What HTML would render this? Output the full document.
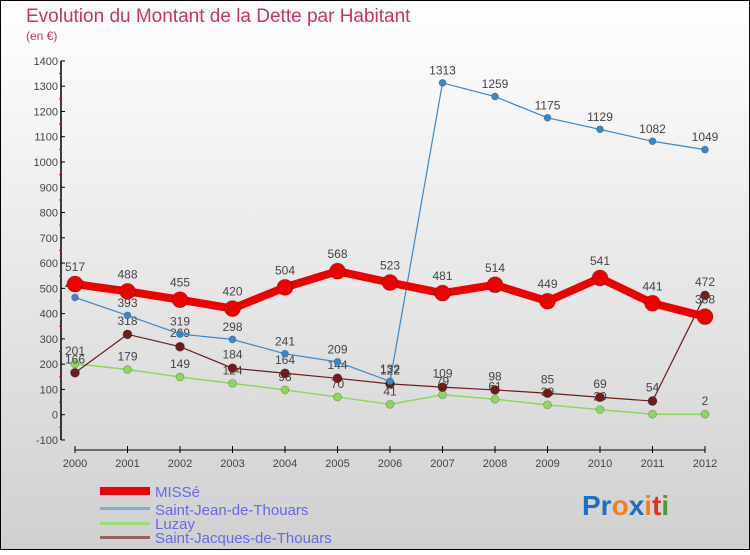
<!DOCTYPE html>
<html><head><meta charset="utf-8"><style>
html,body{margin:0;padding:0}
body{width:750px;height:550px;overflow:hidden;font-family:"Liberation Sans",sans-serif}
</style></head><body>
<svg id="chart" width="750" height="550" viewBox="0 0 750 550" xmlns="http://www.w3.org/2000/svg" font-family="Liberation Sans, sans-serif">
<defs><linearGradient id="bg" x1="0" y1="0" x2="0" y2="1"><stop offset="0" stop-color="#ffffff"/><stop offset="1" stop-color="#d0d0d0"/></linearGradient></defs>
<rect x="0.5" y="0.5" width="749" height="549" fill="url(#bg)" stroke="#000" stroke-width="1"/>
<text x="26" y="22" font-size="19" fill="#c8336a">Evolution du Montant de la Dette par Habitant</text>
<text x="26" y="40" font-size="12" fill="#c8336a">(en €)</text>
<g id="axes"></g>
<g id="series"></g>
<g>
<rect x="100" y="487" width="50" height="8" fill="#e00"/>
<text x="155" y="497" font-size="15" fill="#6666ee">MISSé</text>
<rect x="100" y="507" width="50" height="3" fill="#7ab0d8"/>
<text x="155" y="515" font-size="15" fill="#6666ee">Saint-Jean-de-Thouars</text>
<rect x="100" y="522" width="50" height="3" fill="#9bdc7a"/>
<text x="155" y="529" font-size="15" fill="#6666ee">Luzay</text>
<rect x="100" y="536" width="50" height="3" fill="#9a6060"/>
<text x="155" y="543" font-size="15" fill="#6666ee">Saint-Jacques-de-Thouars</text>
</g>
<text x="582" y="515" font-size="28" font-weight="bold"><tspan fill="#1e6fc0">Pr</tspan><tspan fill="#f08020">o</tspan><tspan fill="#1e6fc0">x</tspan><tspan fill="#f08020">i</tspan><tspan fill="#e03020">t</tspan><tspan fill="#40a030">i</tspan></text>
</svg>
<script>
const years=[2000,2001,2002,2003,2004,2005,2006,2007,2008,2009,2010,2011,2012];
const misse=[517,488,455,420,504,568,523,481,514,449,541,441,388];
const stJean=[464,393,319,298,241,209,132,1313,1259,1175,1129,1082,1049];
const luzay=[201,179,149,124,98,70,41,79,61,39,20,2,2];
const stJacques=[166,318,269,184,164,144,122,109,98,85,69,54,472];
const yTicks=[-100,0,100,200,300,400,500,600,700,800,900,1000,1100,1200,1300,1400];
const NS="http://www.w3.org/2000/svg";
const x=i=>75+i*(630/(years.length-1));
const y=v=>414.7-v*0.2527;
function mk(tag,attrs,parent){const e=document.createElementNS(NS,tag);for(const k in attrs)e.setAttribute(k,attrs[k]);parent.appendChild(e);return e;}
const axes=document.getElementById('axes');
const ya=mk('line',{x1:61,y1:y(1400),x2:61,y2:y(-100),stroke:'#000','stroke-width':1.5},axes);


yTicks.forEach(t=>{
 mk('line',{x1:61,y1:y(t),x2:65,y2:y(t),stroke:'#000'},axes);
 if(t<1400) mk('line',{x1:59,y1:y(t+50),x2:62,y2:y(t+50),stroke:'#e00'},axes);
 const tx=mk('text',{x:58,y:y(t)+4,'text-anchor':'end','font-size':11,fill:'#444'},axes);
 tx.textContent=t;
 
 
});
const xa=mk('line',{x1:x(0),y1:450,x2:x(years.length-1),y2:450,stroke:'#000','stroke-width':1},axes);


years.forEach((yr,i)=>{
 mk('line',{x1:x(i),y1:446,x2:x(i),y2:453,stroke:'#000'},axes);
 const tx=mk('text',{x:x(i),y:467,'text-anchor':'middle','font-size':11,fill:'#444'},axes);
 tx.textContent=yr;
 
 
});
const sg=document.getElementById('series');
function series(vals,color,w,r,name){
 const g=mk('g',{},sg);
 
 
 mk('polyline',{points:vals.map((v,i)=>x(i)+','+y(v)).join(' '),fill:'none',stroke:color,'stroke-width':w,'stroke-linejoin':'round'},g);
 vals.forEach((v,i)=>{
  const c=mk('circle',{cx:x(i),cy:y(v),r:r,fill:color,stroke:'rgba(0,0,0,0.25)','stroke-width':0.8},g);
  
  
  const t=mk('text',{x:x(i),y:y(v)-(r+5),'text-anchor':'middle','font-size':12,fill:'#444'},g);
  t.textContent=v;
  
  
 });
}
series(luzay,'#8ed65e',1.5,4,'series-luzay');
series(stJacques,'#6e1c1c',1.2,4.5,'series-saint-jacques');
series(stJean,'#3a87c8',1.2,3.5,'series-saint-jean');
series(misse,'#ee0000',8,8,'series-misse');
</script>
</body></html>
